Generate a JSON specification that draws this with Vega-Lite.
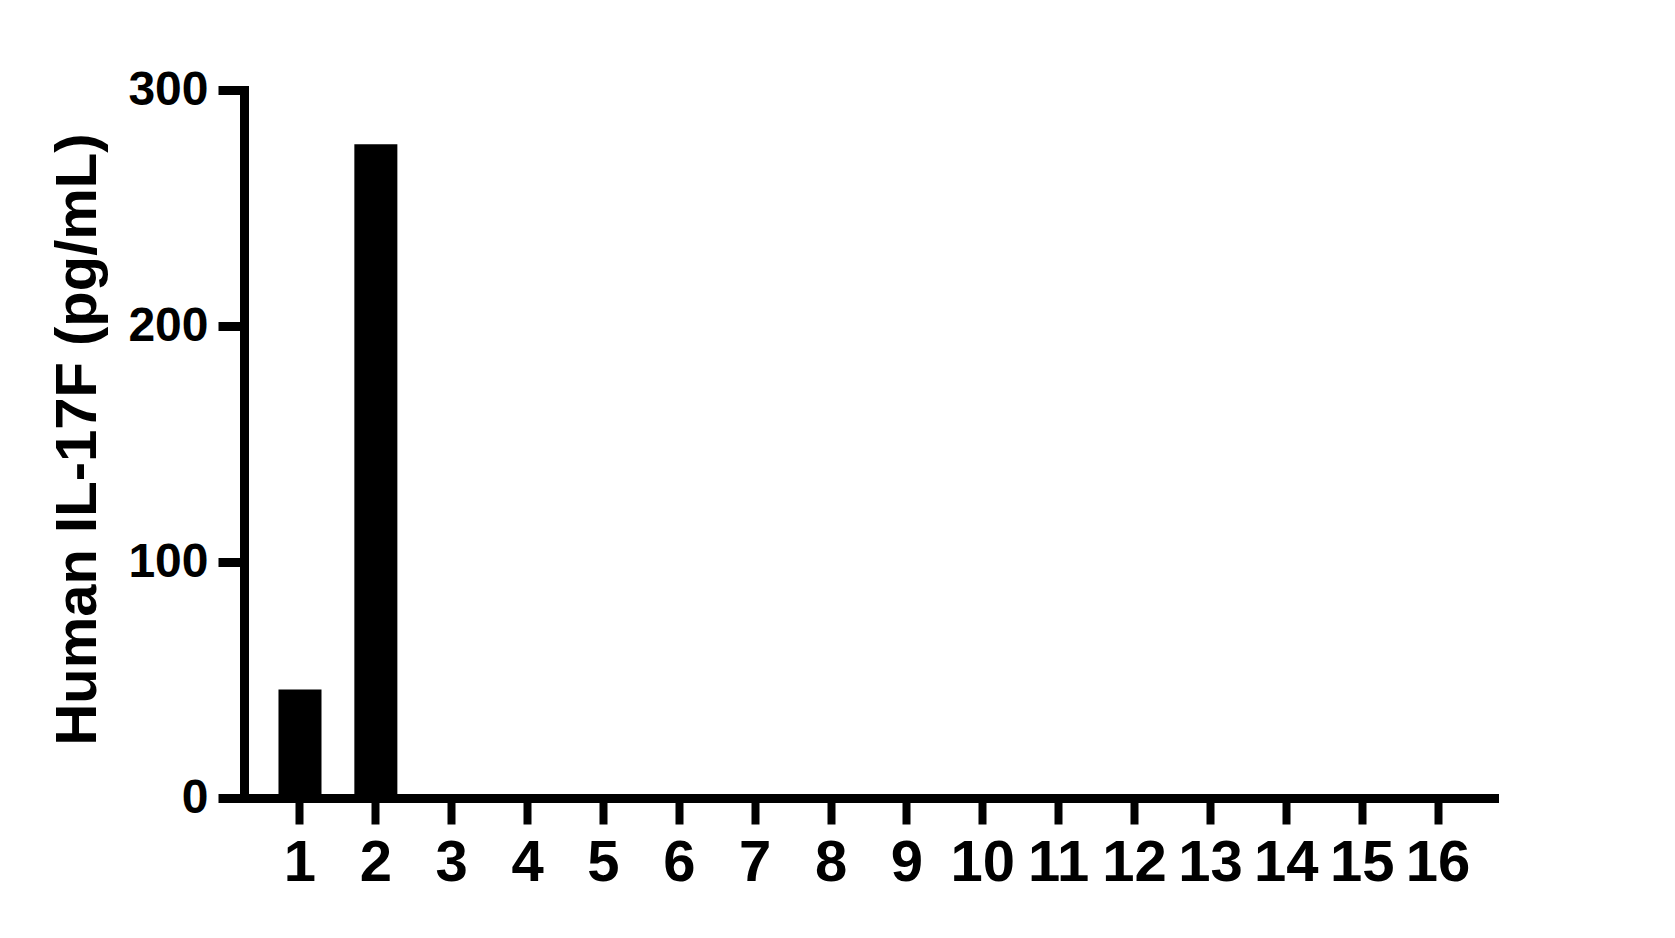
{
  "$schema": "https://vega.github.io/schema/vega-lite/v6.json",
  "autosize": {"type": "none"},
  "padding": {"left": 244, "top": 90, "right": 181, "bottom": 140},
  "width": 1250,
  "height": 708,
  "background": "white",
  "config": {
    "view": {"stroke": null},
    "font": "Liberation Sans",
    "axis": {
      "domainColor": "black",
      "domainWidth": 9,
      "domainCap": "square",
      "tickColor": "black",
      "tickSize": 26,
      "grid": false,
      "labelColor": "black",
      "labelFont": "Liberation Sans",
      "labelFontWeight": "bold",
      "titleColor": "black",
      "titleFont": "Liberation Sans",
      "titleFontWeight": "bold"
    }
  },
  "data": {
    "values": [
      {"sample": 1, "value": 46},
      {"sample": 2, "value": 277},
      {"sample": 3, "value": 0},
      {"sample": 4, "value": 0},
      {"sample": 5, "value": 0},
      {"sample": 6, "value": 0},
      {"sample": 7, "value": 0},
      {"sample": 8, "value": 0},
      {"sample": 9, "value": 0},
      {"sample": 10, "value": 0},
      {"sample": 11, "value": 0},
      {"sample": 12, "value": 0},
      {"sample": 13, "value": 0},
      {"sample": 14, "value": 0},
      {"sample": 15, "value": 0},
      {"sample": 16, "value": 0}
    ]
  },
  "mark": {"type": "bar", "color": "black"},
  "encoding": {
    "x": {
      "field": "sample",
      "type": "ordinal",
      "scale": {"paddingInner": 0.433, "paddingOuter": 0.4545},
      "axis": {
        "title": null,
        "labelAngle": 0,
        "labelFontSize": 58,
        "labelPadding": 10,
        "tickWidth": 8
      }
    },
    "y": {
      "field": "value",
      "type": "quantitative",
      "scale": {"domain": [0, 300], "nice": false},
      "axis": {
        "title": "Human IL-17F (pg/mL)",
        "values": [0, 100, 200, 300],
        "labelFontSize": 48,
        "labelPadding": 10,
        "tickWidth": 9,
        "titleFontSize": 58,
        "titleAngle": -90,
        "titleBaseline": "alphabetic",
        "titleAlign": "center",
        "titleX": -149,
        "titleY": 349
      }
    }
  }
}
